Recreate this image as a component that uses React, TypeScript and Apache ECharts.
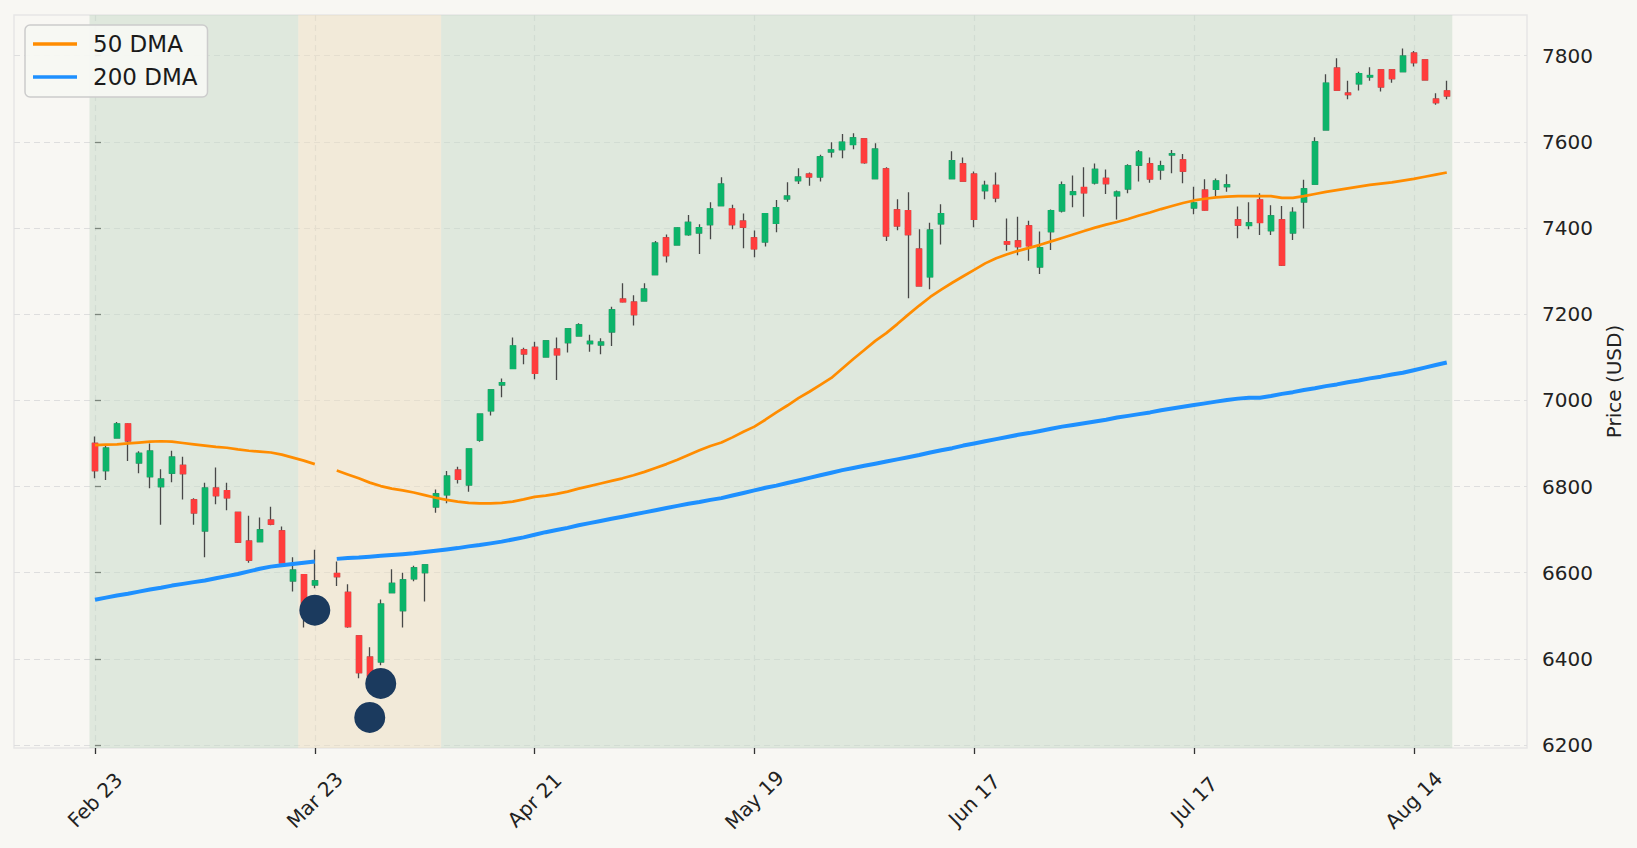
import * as echarts from 'echarts';
import React, { useEffect, useRef } from 'react';

// x axis is the trading-day index; labels every 20 sessions
const tickIndex = [0, 20, 40, 60, 80, 100, 120];
const tickLabels = ['Feb 23', 'Mar 23', 'Apr 21', 'May 19', 'Jun 17', 'Jul 17', 'Aug 14'];
const priceTicks = [6200, 6400, 6600, 6800, 7000, 7200, 7400, 7600, 7800];

// daily candles (index 21 has no data)
const opens = [
  6900, 6837, 6913, 6945, 6855, 6823, 6800, 6831, 6849, 6769,
  6697, 6796, 6790, 6740, 6673, 6672, 6722, 6697, 6581, 6595,
  6572, null, 6598, 6554, 6453, 6404, 6393, 6554, 6512, 6586,
  6600, 6753, 6781, 6838, 6804, 6908, 6976, 7036, 7074, 7117,
  7123, 7101, 7119, 7134, 7150, 7132, 7129, 7159, 7235, 7228,
  7231, 7292, 7377, 7361, 7385, 7389, 7408, 7452, 7444, 7416,
  7377, 7368, 7411, 7468, 7510, 7525, 7519, 7577, 7582, 7594,
  7607, 7515, 7537, 7442, 7440, 7351, 7287, 7410, 7515, 7549,
  7525, 7487, 7499, 7368, 7370, 7405, 7310, 7392, 7440, 7478,
  7494, 7505, 7515, 7475, 7491, 7546, 7549, 7535, 7570, 7558,
  7447, 7488, 7490, 7496, 7419, 7406, 7465, 7394, 7419, 7389,
  7461, 7502, 7628, 7771, 7713, 7735, 7751, 7767, 7767, 7763,
  7806, 7790, 7699, 7718,
];
const highs = [
  6916, 6894, 6950, 6947, 6882, 6900, 6840, 6883, 6869, 6773,
  6809, 6844, 6809, 6741, 6732, 6728, 6753, 6707, 6636, 6596,
  6653, null, 6626, 6573, 6453, 6427, 6538, 6608, 6600, 6616,
  6618, 6793, 6836, 6846, 6887, 6968, 7026, 7051, 7146, 7122,
  7136, 7138, 7146, 7166, 7179, 7152, 7144, 7217, 7272, 7244,
  7272, 7370, 7385, 7402, 7430, 7409, 7460, 7518, 7454, 7434,
  7394, 7434, 7465, 7506, 7539, 7529, 7570, 7599, 7618, 7620,
  7607, 7597, 7541, 7467, 7483, 7397, 7412, 7455, 7578, 7564,
  7531, 7510, 7529, 7422, 7426, 7417, 7392, 7443, 7508, 7522,
  7541, 7550, 7536, 7487, 7548, 7581, 7564, 7556, 7581, 7572,
  7496, 7513, 7515, 7525, 7450, 7460, 7481, 7453, 7451, 7448,
  7512, 7611, 7757, 7794, 7742, 7763, 7773, 7767, 7767, 7817,
  7811, 7790, 7713, 7742,
];
const lows = [
  6819, 6815, 6913, 6859, 6831, 6796, 6711, 6810, 6770, 6711,
  6636, 6759, 6745, 6669, 6623, 6672, 6710, 6622, 6556, 6473,
  6564, null, 6569, 6472, 6355, 6340, 6385, 6554, 6473, 6580,
  6533, 6739, 6761, 6807, 6788, 6904, 6965, 7007, 7074, 7084,
  7049, 7101, 7047, 7111, 7148, 7113, 7107, 7126, 7227, 7174,
  7231, 7292, 7320, 7361, 7382, 7340, 7374, 7452, 7397, 7353,
  7332, 7357, 7390, 7461, 7502, 7498, 7508, 7564, 7562, 7583,
  7549, 7515, 7370, 7395, 7237, 7264, 7258, 7362, 7515, 7508,
  7402, 7467, 7460, 7347, 7337, 7324, 7293, 7349, 7436, 7448,
  7426, 7501, 7479, 7420, 7481, 7508, 7505, 7512, 7527, 7504,
  7432, 7440, 7473, 7484, 7376, 7397, 7384, 7384, 7312, 7372,
  7399, 7502, 7628, 7719, 7699, 7719, 7742, 7717, 7737, 7763,
  7775, 7744, 7686, 7699,
];
const closes = [
  6837, 6889, 6945, 6906, 6877, 6882, 6817, 6868, 6830, 6739,
  6796, 6779, 6774, 6671, 6629, 6699, 6713, 6623, 6606, 6505,
  6581, null, 6591, 6475, 6368, 6360, 6527, 6575, 6583, 6611,
  6618, 6783, 6824, 6817, 6887, 6968, 7024, 7041, 7126, 7108,
  7063, 7138, 7106, 7166, 7175, 7137, 7135, 7210, 7229, 7199,
  7258, 7365, 7336, 7400, 7413, 7401, 7444, 7502, 7408, 7402,
  7352, 7433, 7447, 7474, 7518, 7519, 7565, 7581, 7599, 7609,
  7552, 7583, 7382, 7405, 7385, 7266, 7395, 7433, 7556, 7509,
  7420, 7499, 7470, 7363, 7357, 7359, 7354, 7440, 7500, 7484,
  7482, 7536, 7503, 7483, 7544, 7576, 7514, 7544, 7572, 7532,
  7458, 7442, 7509, 7500, 7407, 7412, 7413, 7428, 7314, 7436,
  7491, 7600, 7736, 7720, 7710, 7758, 7754, 7728, 7747, 7799,
  7784, 7744, 7691, 7707,
];

const ma50 = [
  6896, 6897, 6898, 6900, 6902, 6904, 6905, 6904, 6901, 6898,
  6895, 6892, 6890, 6886, 6883, 6881, 6879, 6874, 6867, 6860,
  6852, null, 6837, 6828, 6819, 6809, 6801, 6795, 6791, 6786,
  6780, 6774, 6769, 6765, 6762, 6761, 6761, 6762, 6765, 6770,
  6776, 6779, 6783, 6788, 6795, 6801, 6807, 6813, 6819, 6826,
  6834, 6843, 6852, 6862, 6873, 6884, 6894, 6902, 6914, 6927,
  6939, 6955, 6972, 6988, 7005, 7020, 7036, 7052, 7074, 7096,
  7117, 7138, 7156, 7177, 7199, 7220, 7240, 7257, 7273, 7288,
  7303, 7318, 7330, 7339, 7347, 7354, 7361, 7369, 7377, 7385,
  7393, 7401, 7408, 7414, 7421, 7429, 7436, 7444, 7451, 7458,
  7464, 7468, 7471, 7473, 7474, 7474, 7474, 7474, 7470, 7470,
  7474, 7479, 7484, 7488, 7492, 7496, 7500, 7503, 7506, 7510,
  7514, 7519, 7524, 7529,
];
const ma200 = [
  6537, 6542, 6547, 6551, 6556, 6561, 6565, 6570, 6574, 6578,
  6582, 6587, 6592, 6597, 6603, 6609, 6614, 6617, 6620, 6623,
  6626, null, 6632, 6634, 6635, 6637, 6639, 6641, 6643, 6645,
  6648, 6651, 6654, 6657, 6661, 6664, 6668, 6672, 6677, 6682,
  6688, 6694, 6699, 6704, 6710, 6715, 6720, 6725, 6730, 6735,
  6740, 6745, 6750, 6755, 6760, 6764, 6769, 6773, 6779, 6785,
  6791, 6797, 6802, 6808, 6814, 6820, 6826, 6832, 6838, 6843,
  6848, 6853, 6858, 6863, 6868, 6873, 6879, 6884, 6889, 6895,
  6900, 6905, 6910, 6915, 6920, 6924, 6929, 6934, 6939, 6943,
  6947, 6951, 6955, 6960, 6964, 6968, 6972, 6977, 6981, 6985,
  6989, 6993, 6997, 7001, 7004, 7006, 7006, 7010, 7015, 7019,
  7024, 7028, 7033, 7037, 7042, 7046, 7051, 7055, 7060, 7064,
  7070, 7076, 7082, 7088,
];

// market regime bands (in index units) and signal dots
const regimeFrom = [-0.5, 18.5, 31.5];
const regimeTo = [18.5, 31.5, 123.5];
const regimeKind = ['bull', 'bear', 'bull'];
const signalIndex = [20, 25, 26];
const signalPrice = [6513, 6264, 6343];

const UP = '#0cb46a';
const DOWN = '#ff3d3d';
const FONT = 'DejaVu Sans';

const App: React.FC = () => {
  const chartRef = useRef<HTMLDivElement>(null);

  useEffect(() => {
    if (!chartRef.current) return;
    const chart = echarts.init(chartRef.current, null, { renderer: 'svg' });

    const days = opens.map((_, i) => i).filter((i) => opens[i] != null);
    const wickData = days.map((i) => [i, opens[i], closes[i], lows[i], highs[i]]);
    const bodyData = days.map((i) => [
      i,
      opens[i],
      closes[i],
      Math.min(opens[i] as number, closes[i] as number),
      Math.max(opens[i] as number, closes[i] as number),
    ]);
    const toLine = (vals: (number | null)[]) => vals.map((v, i) => [i, v == null ? '-' : v]);

    const bandColor = (k: string) =>
      k === 'bull' ? 'rgba(197,218,200,0.5)' : 'rgba(235,222,192,0.5)';

    const gridLine = { show: true, lineStyle: { color: '#dedede', width: 1.2, type: [6, 4] } };

    const option: any = {
      animation: false,
      backgroundColor: '#f8f7f3',
      textStyle: { fontFamily: FONT },
      grid: {
        left: 14,
        top: 15,
        width: 1513,
        height: 733,
        show: true,
        borderColor: '#e6e6e6',
        borderWidth: 1.5,
        backgroundColor: '#f8f7f3',
        outerBoundsMode: 'none',
      },
      legend: {
        left: 25,
        top: 25,
        orient: 'vertical',
        selectedMode: false,
        backgroundColor: 'rgba(246,247,243,0.92)',
        borderColor: '#cccccc',
        borderWidth: 1.5,
        borderRadius: 5,
        padding: [5, 10, 6, 8],
        itemWidth: 44,
        itemHeight: 3.5,
        itemGap: 5,
        textStyle: { fontSize: 23, color: '#1a1a1a', lineHeight: 28, padding: [0, 0, 0, 11], fontFamily: FONT },
        data: [
          { name: '50 DMA', icon: 'rect', itemStyle: { color: '#ff8c00' } },
          { name: '200 DMA', icon: 'rect', itemStyle: { color: '#1e90ff' } },
        ],
      },
      xAxis: {
        type: 'value',
        min: -7.37,
        max: 130.3,
        axisLine: { show: false },
        axisTick: { show: true, customValues: tickIndex, length: 6, lineStyle: { color: '#333', width: 1.3 } },
        axisLabel: {
          customValues: tickIndex,
          formatter: (v: number) => tickLabels[tickIndex.indexOf(v)] ?? '',
          rotate: 45,
          align: 'center',
          verticalAlign: 'middle',
          margin: 52,
          fontSize: 20,
          color: '#222',
          fontFamily: FONT,
        },
        splitLine: gridLine,
      },
      yAxis: {
        type: 'value',
        position: 'right',
        min: 6193,
        max: 7894.5,
        axisLine: { show: false },
        axisTick: { show: true, customValues: priceTicks, length: 6, lineStyle: { color: '#333', width: 1.3 } },
        axisLabel: {
          customValues: priceTicks,
          formatter: (v: number) => String(v),
          margin: 15,
          fontSize: 20,
          color: '#222',
          fontFamily: FONT,
        },
        splitLine: gridLine,
        name: 'Price (USD)',
        nameLocation: 'middle',
        nameRotate: 90,
        nameGap: 68,
        nameTextStyle: { fontSize: 20, color: '#222', fontFamily: FONT },
      },
      series: [
        {
          name: 'wicks',
          type: 'candlestick',
          data: wickData,
          encode: { x: 0, y: [1, 2, 3, 4] },
          barWidth: 5.5,
          itemStyle: {
            color: UP,
            color0: DOWN,
            borderColor: '#484848',
            borderColor0: '#484848',
            borderWidth: 1.3,
          },
          markArea: {
            silent: true,
            label: { show: false },
            data: regimeKind.map((k, j) => [
              { xAxis: regimeFrom[j], itemStyle: { color: bandColor(k) } },
              { xAxis: regimeTo[j] },
            ]),
          },
        },
        {
          name: 'bodies',
          type: 'candlestick',
          data: bodyData,
          encode: { x: 0, y: [1, 2, 3, 4] },
          barWidth: 5.5,
          itemStyle: {
            color: UP,
            color0: DOWN,
            borderColor: UP,
            borderColor0: DOWN,
            borderWidth: 1.4,
          },
        },
        {
          name: '50 DMA',
          type: 'line',
          data: toLine(ma50),
          symbol: 'none',
          lineStyle: { color: '#ff8c00', width: 2.7 },
          itemStyle: { color: '#ff8c00' },
          z: 4,
        },
        {
          name: '200 DMA',
          type: 'line',
          data: toLine(ma200),
          symbol: 'none',
          lineStyle: { color: '#1e90ff', width: 4 },
          itemStyle: { color: '#1e90ff' },
          z: 4,
        },
        {
          name: 'signals',
          type: 'scatter',
          data: signalIndex.map((x, j) => [x, signalPrice[j]]),
          symbolSize: 31,
          itemStyle: { color: '#1b3a5e', opacity: 1 },
          z: 5,
        },
      ],
    };

    chart.setOption(option);
    return () => {
      chart.dispose();
    };
  }, []);

  return (
    <div
      ref={chartRef}
      style={{ position: 'absolute', left: 0, top: 0, width: 1637, height: 848 }}
    />
  );
};

export default App;
